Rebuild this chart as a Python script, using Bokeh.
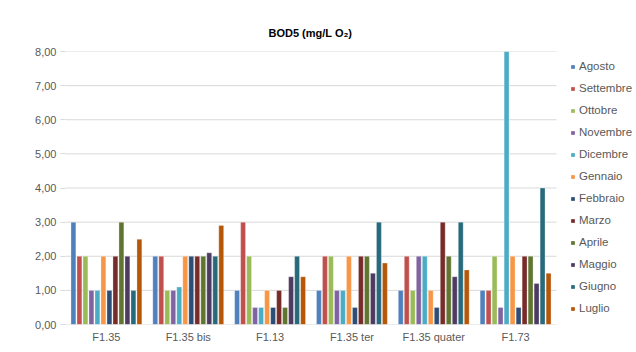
import numpy as np
from bokeh.plotting import figure
from bokeh.models import ColumnDataSource, Range1d, FixedTicker, Legend, LegendItem
from bokeh.embed import file_html
from bokeh.resources import INLINE

categories = ["F1.35", "F1.35 bis", "F1.13", "F1.35 ter", "F1.35 quater", "F1.73"]
months = ["Agosto", "Settembre", "Ottobre", "Novembre", "Dicembre", "Gennaio",
          "Febbraio", "Marzo", "Aprile", "Maggio", "Giugno", "Luglio"]

agosto = [3, 2, 1, 1, 1, 1]
settembre = [2, 2, 3, 2, 2, 1]
ottobre = [2, 1, 2, 2, 1, 2]
novembre = [1, 1, 0.5, 1, 2, 0.5]
dicembre = [1, 1.1, 0.5, 1, 2, 8]
gennaio = [2, 2, 1, 2, 1, 2]
febbraio = [1, 2, 0.5, 0.5, 0.5, 0.5]
marzo = [2, 2, 1, 2, 3, 2]
aprile = [3, 2, 0.5, 2, 2, 2]
maggio = [2, 2.1, 1.4, 1.5, 1.4, 1.2]
giugno = [1, 2, 2, 3, 3, 4]
luglio = [2.5, 2.9, 1.4, 1.8, 1.6, 1.5]

series = [agosto, settembre, ottobre, novembre, dicembre, gennaio,
          febbraio, marzo, aprile, maggio, giugno, luglio]

colors = ["#4F81BD", "#C0504D", "#9BBB59", "#8064A2", "#4BACC6", "#F79646",
          "#2C4D75", "#772C2A", "#5F7530", "#4D3B62", "#276A7C", "#B65708"]

y_ticks = [0, 1, 2, 3, 4, 5, 6, 7, 8]
y_tick_labels = ["0,00", "1,00", "2,00", "3,00", "4,00", "5,00", "6,00", "7,00", "8,00"]

FONT = "Liberation Sans"
TXT = "#595959"
GRID = "#d9d9d9"

n = len(categories)
cat_pos = np.arange(n) + 0.5
# frame spans 571 px; the categories take the first 491 px, legend sits in the rest
x_max = n * 571 / 491

p = figure(width=636, height=352, output_backend="svg", toolbar_location=None,
           x_range=Range1d(0, x_max), y_range=Range1d(0, 8),
           min_border_left=65, min_border_right=0, min_border_top=51, min_border_bottom=28,
           title="BOD5 (mg/L O\u2082)")

p.title.align = "left"
p.title.offset = 203
p.title.text_font = FONT
p.title.text_font_size = "11px"
p.title.text_font_style = "bold"
p.title.text_color = "#000000"
p.title.standoff = 25

# horizontal gridlines limited to the category area
p.segment(x0=[0] * len(y_ticks), x1=[n] * len(y_ticks), y0=y_ticks, y1=y_ticks,
          line_color=GRID, line_width=1)

slot = 0.0733
bar_w = 0.06
items = []
for i, (m, vals, c) in enumerate(zip(months, series, colors)):
    off = (i - 5.5) * slot
    src = ColumnDataSource(dict(x=cat_pos + off, top=vals))
    r = p.vbar(x="x", top="top", width=bar_w, bottom=0,
               source=src, fill_color=c, line_color="white", line_alpha=0.5, line_width=0.6)
    items.append(LegendItem(label=m, renderers=[r]))

p.outline_line_color = None
p.background_fill_color = "white"
p.border_fill_color = "white"
p.xgrid.grid_line_color = None
p.ygrid.grid_line_color = None

yax = p.yaxis[0]
yax.ticker = FixedTicker(ticks=y_ticks)
yax.major_label_overrides = {t: l for t, l in zip(y_ticks, y_tick_labels)}
yax.axis_line_color = None
yax.major_tick_line_color = GRID
yax.major_tick_out = 5
yax.major_tick_in = 0
yax.minor_tick_line_color = None
yax.major_label_text_font = FONT
yax.major_label_text_font_size = "11px"
yax.major_label_text_color = TXT
yax.major_label_standoff = 4

xax = p.xaxis[0]
xax.ticker = FixedTicker(ticks=list(cat_pos))
xax.major_label_overrides = {float(x): c for x, c in zip(cat_pos, categories)}
xax.axis_line_color = None
xax.major_tick_line_color = None
xax.minor_tick_line_color = None
xax.major_label_text_font = FONT
xax.major_label_text_font_size = "11px"
xax.major_label_text_color = TXT
xax.major_label_standoff = 0

lg = Legend(items=items, location=(505, 5), margin=0, padding=0, spacing=0,
            label_height=22, glyph_width=5, glyph_height=5, label_standoff=4,
            label_text_font=FONT, label_text_font_size="11.5px", label_text_color=TXT,
            border_line_color=None, background_fill_alpha=0)
p.add_layout(lg)

open("out.html", "w").write(file_html(p, INLINE))
